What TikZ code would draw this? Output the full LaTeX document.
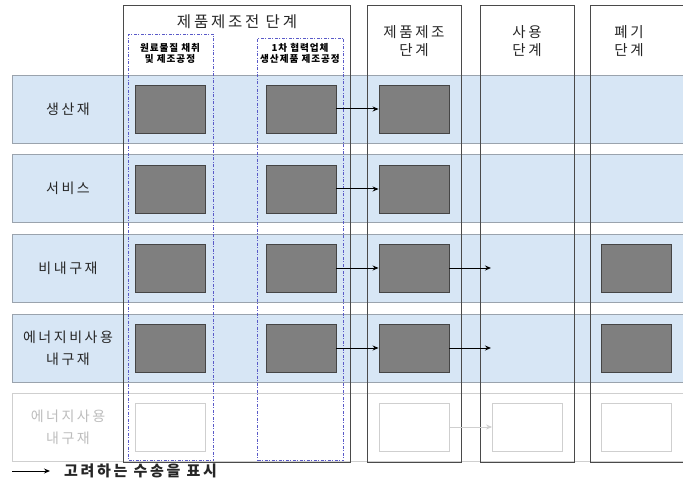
\documentclass[tikz,border=0pt]{standalone}
\usepackage{fontspec}
\usetikzlibrary{arrows.meta}
\newfontfamily\kr[LetterSpace=18]{Noto Sans CJK KR}
\newfontfamily\krs[LetterSpace=10]{Noto Sans CJK KR}
\definecolor{rowfill}{HTML}{D7E6F5}
\definecolor{rowline}{HTML}{9AA3AD}
\definecolor{colline}{HTML}{4A4A4A}
\definecolor{dashc}{HTML}{5A5AC8}
\definecolor{boxfill}{HTML}{7F7F7F}
\definecolor{boxline}{HTML}{454545}
\definecolor{faint}{HTML}{CFCFCF}
\definecolor{fainttext}{HTML}{BDBDBD}
\begin{document}
\begin{tikzpicture}[x=1pt,y=-1pt,
  rowbox/.style={draw=rowline,fill=rowfill,line width=0.9pt,anchor=north west,inner sep=0pt,minimum width=690pt,minimum height=68pt},
  fainrow/.style={draw=faint,fill=white,line width=0.9pt,anchor=north west,inner sep=0pt,minimum width=690pt,minimum height=68pt},
  colbox/.style={draw=colline,line width=1pt,anchor=north west,inner sep=0pt,minimum height=457pt},
  stagebox/.style={draw=dashc,line width=1pt,dash pattern=on 3pt off 1.5pt on 1pt off 1.5pt,anchor=north west,inner sep=0pt},
  gbox/.style={fill=boxfill,draw=boxline,line width=0.9pt,inner sep=0pt,minimum width=70pt,minimum height=48pt},
  ebox/.style={fill=white,draw=faint,line width=0.9pt,inner sep=0pt,minimum width=70pt,minimum height=48pt},
  lab/.style={font=\kr\fontsize{14}{16}\selectfont,align=center,text=black!85,inner sep=0pt},
  small/.style={font=\krs\bfseries\fontsize{9.6}{11}\selectfont,align=center,inner sep=0pt},
  flow/.style={-{Stealth[length=6pt,width=5pt]},line width=1pt,black},
  fflow/.style={-{Stealth[length=6pt,width=5pt]},line width=0.8pt,faint}
]
\useasboundingbox (0,0) rectangle (683,484);
\clip (0,0) rectangle (683,484);
% rows
\node[rowbox] (r1) at (12,75) {};
\node[rowbox] (r2) at (12,154) {};
\node[rowbox] (r3) at (12,234) {};
\node[rowbox] (r4) at (12,314) {};
\node[fainrow] (r5) at (12,393) {};
% columns
\node[colbox,minimum width=227pt] (k1) at (123,5) {};
\node[colbox,minimum width=94pt] (k2) at (367,5) {};
\node[colbox,minimum width=94pt] (k3) at (480,5) {};
\node[colbox,minimum width=110pt] (k4) at (590,5) {};
% dash-dot sub-stage boxes
\node[stagebox,minimum width=85pt,minimum height=426pt] (sa) at (128,34) {};
\node[stagebox,minimum width=86pt,minimum height=422pt] (sb) at (257,38) {};
% header texts
\node[lab,font=\kr\fontsize{15.5}{16}\selectfont] (h1) at (237,22) {제품제조전 단계};
\node[small] (h1a) at (170,53) {원료물질 채취\\및 제조공정};
\node[small] (h1b) at (300,53) {1차 협력업체\\생산제품 제조공정};
\node[lab,font=\kr\fontsize{14.5}{18.5}\selectfont] (h2) at (414,41) {제품제조\\단계};
\node[lab,font=\kr\fontsize{14.5}{18.5}\selectfont] (h3) at (527,41) {사용\\단계};
\node[lab,font=\kr\fontsize{14.5}{18.5}\selectfont] (h4) at (629,41) {폐기\\단계};
% row labels
\node[lab] (l1) at (68,109) {생산재};
\node[lab] (l2) at (68,188) {서비스};
\node[lab] (l3) at (68,268) {비내구재};
\node[lab,font=\kr\fontsize{14}{22}\selectfont] (l4) at (68,348) {에너지비사용\\내구재};
\node[lab,font=\kr\fontsize{14}{22}\selectfont,text=fainttext] (l5) at (68,427) {에너지사용\\내구재};
% boxes
\node[gbox] (a1) at (170,109) {};
\node[gbox] (b1) at (301,109) {};
\node[gbox] (c1) at (414,109) {};
\node[gbox] (a2) at (170,189) {};
\node[gbox] (b2) at (301,189) {};
\node[gbox] (c2) at (414,189) {};
\node[gbox] (a3) at (170,268) {};
\node[gbox] (b3) at (301,268) {};
\node[gbox] (c3) at (414,268) {};
\node[gbox] (e3) at (636,268) {};
\node[gbox] (a4) at (170,348) {};
\node[gbox] (b4) at (301,348) {};
\node[gbox] (c4) at (414,348) {};
\node[gbox] (e4) at (636,348) {};
\node[ebox] (a5) at (170,427) {};
\node[ebox] (c5) at (414,427) {};
\node[ebox] (d5) at (527.5,427) {};
\node[ebox] (e5) at (636,427) {};
% arrows
\coordinate (t3) at (491,268);
\coordinate (t4) at (491,348);
\draw[flow] (b1) -- (c1);
\draw[flow] (b2) -- (c2);
\draw[flow] (b3) -- (c3);
\draw[flow] (c3) -- (t3);
\draw[flow] (b4) -- (c4);
\draw[flow] (c4) -- (t4);
\draw[fflow] (c5) -- (d5);
% legend
\coordinate (g1) at (12,471);
\coordinate (g2) at (50,471);
\draw[flow] (g1) -- (g2);
\node[lab,font=\kr\bfseries\fontsize{15}{15}\selectfont,anchor=west] (gt) at (64,471) {고려하는 수송을 표시};
\end{tikzpicture}
\end{document}
